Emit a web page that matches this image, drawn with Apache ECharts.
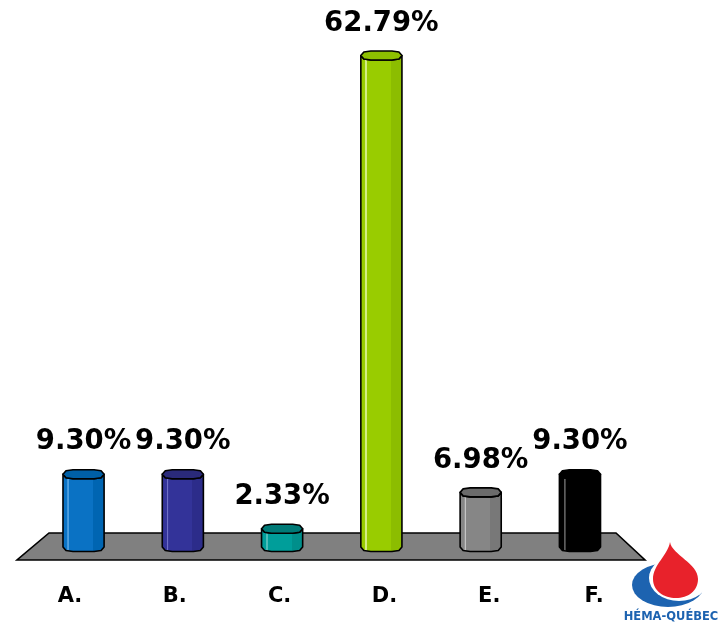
<!DOCTYPE html>
<html>
<head>
<meta charset="utf-8">
<script src="https://cdn.jsdelivr.net/npm/echarts@6/dist/echarts.min.js"></script>
<style>
  html, body { margin: 0; padding: 0; background: #ffffff; }
  #chart { width: 721px; height: 624px; }
</style>
</head>
<body>
<div id="chart"></div>
<script>
// Answer categories and their share of responses (%)
const categories = ['A.', 'B.', 'C.', 'D.', 'E.', 'F.'];
const shares = [9.30, 9.30, 2.33, 62.79, 6.98, 9.30];

// Column palettes: body, highlight, shaded facet, top cap
const palettes = [
  { base: '#0a72c4', light: '#4d9fe0', dark: '#0065b2', cap: '#005fa6' },
  { base: '#333399', light: '#7070c8', dark: '#2c2c8a', cap: '#2a2a7a' },
  { base: '#009e9a', light: '#4dbdb9', dark: '#008f8b', cap: '#007a77' },
  { base: '#99cc00', light: '#d4ec85', dark: '#8cbd00', cap: '#8dbf00' },
  { base: '#868686', light: '#c4c4c4', dark: '#787878', cap: '#6b6b6b' },
  { base: '#000000', light: '#5c5c5c', dark: '#000000', cap: '#000000' }
];

const chart = echarts.init(document.getElementById('chart'));
const FONT = '"DejaVu Sans", Verdana, sans-serif';

// Octagonal column: body with shaded facets, flattened octagon cap and value label
function renderColumn(params, api) {
  const idx = api.value(0);
  const val = api.value(1);
  const top = api.coord([idx, val]);
  const base = api.coord([idx, 0]);
  const band = api.size([1, 0])[0];
  const cx = top[0];
  const ty = top[1];
  const by = base[1];
  const hw = band * 0.207;
  const p = palettes[idx];
  const e1 = 3, e2 = 10, d1 = 3.5, d2 = 4.5;

  const body = [
    [cx - hw, ty], [cx - hw, by],
    [cx - hw + e1, by + d1], [cx - hw + e2, by + d2],
    [cx + hw - e2, by + d2], [cx + hw - e1, by + d1],
    [cx + hw, by], [cx + hw, ty],
    [cx + hw - e1, ty + d1], [cx + hw - e2, ty + d2],
    [cx - hw + e2, ty + d2], [cx - hw + e1, ty + d1]
  ];
  const cap = [
    [cx - hw, ty], [cx - hw + e1, ty - d1], [cx - hw + e2, ty - d2],
    [cx + hw - e2, ty - d2], [cx + hw - e1, ty - d1], [cx + hw, ty],
    [cx + hw - e1, ty + d1], [cx + hw - e2, ty + d2],
    [cx - hw + e2, ty + d2], [cx - hw + e1, ty + d1]
  ];
  const grad = {
    type: 'linear', x: 0, y: 0, x2: 1, y2: 0,
    colorStops: [
      { offset: 0, color: p.base },
      { offset: 0.12, color: p.base },
      { offset: 0.125, color: p.light },
      { offset: 0.16, color: p.light },
      { offset: 0.165, color: p.base },
      { offset: 0.72, color: p.base },
      { offset: 0.725, color: p.dark },
      { offset: 1, color: p.dark }
    ]
  };
  return {
    type: 'group',
    children: [
      {
        type: 'polygon',
        shape: { points: body },
        style: { fill: grad, stroke: '#000', lineWidth: 1.6, lineJoin: 'round' }
      },
      {
        type: 'polygon',
        shape: { points: cap },
        style: { fill: p.cap, stroke: '#000', lineWidth: 1.6, lineJoin: 'round' }
      },
      {
        type: 'text',
        style: {
          x: cx, y: ty - 32,
          text: val.toFixed(2) + '%',
          fill: '#000',
          font: 'bold 27.5px ' + FONT,
          align: 'center',
          verticalAlign: 'middle'
        }
      }
    ]
  };
}

// Logo (blood drop with swoosh) and the grey floor under the columns
function renderBackdrop() {
  return {
    type: 'group',
    children: [
      // swoosh: blue ellipse hollowed by an offset white ellipse
      {
        type: 'circle', x: 668, y: 585, scaleX: 1, scaleY: 22 / 36,
        shape: { cx: 0, cy: 0, r: 36 },
        style: { fill: '#1d63b0' }
      },
      {
        type: 'circle', x: 679, y: 578, scaleX: 1, scaleY: 23 / 30,
        shape: { cx: 0, cy: 0, r: 30 },
        style: { fill: '#ffffff' }
      },
      // drop
      {
        type: 'path',
        shape: { pathData: 'M670 542 C672 555 698 563 698 579 C698 591 688 598 676 598 C664 598 653 591 653 579 C653 565 668 555 670 542 Z' },
        style: { fill: '#e8222b' }
      },
      {
        type: 'text',
        style: {
          x: 671, y: 617, text: 'HÉMA-QUÉBEC',
          fill: '#1d63b0', font: 'bold 11.5px ' + FONT,
          align: 'center', verticalAlign: 'middle'
        }
      },
      {
        type: 'polygon',
        shape: { points: [[49, 533], [616, 533], [645, 560], [17, 560]] },
        style: { fill: '#808080', stroke: '#000', lineWidth: 1.6 }
      }
    ]
  };
}

const option = {
  backgroundColor: '#ffffff',
  animation: false,
  grid: [
    // columns stand at mid-depth of the floor
    { left: 33.9, right: 91.4, top: 38.2, bottom: 77 },
    // category labels along the front edge of the floor
    { left: 17.6, right: 74.6, top: 540, bottom: 37 }
  ],
  xAxis: [
    { gridIndex: 0, type: 'category', data: categories, show: false, boundaryGap: true },
    {
      gridIndex: 1, type: 'category', data: categories, boundaryGap: true,
      axisLine: { show: false }, axisTick: { show: false }, splitLine: { show: false },
      axisLabel: {
        margin: 10, verticalAlign: 'middle',
        color: '#000', fontFamily: FONT, fontWeight: 'bold', fontSize: 21
      }
    }
  ],
  yAxis: [
    { gridIndex: 0, type: 'value', min: 0, max: 65, show: false },
    { gridIndex: 1, type: 'value', min: 0, max: 1, show: false }
  ],
  series: [
    {
      type: 'custom',
      xAxisIndex: 1, yAxisIndex: 1,
      z: 1,
      silent: true,
      renderItem: renderBackdrop,
      data: [[0, 0]]
    },
    {
      type: 'custom',
      xAxisIndex: 0, yAxisIndex: 0,
      z: 10,
      renderItem: renderColumn,
      encode: { x: 0, y: 1 },
      data: shares.map((v, i) => [i, v])
    }
  ]
};

chart.setOption(option);
</script>
</body>
</html>
